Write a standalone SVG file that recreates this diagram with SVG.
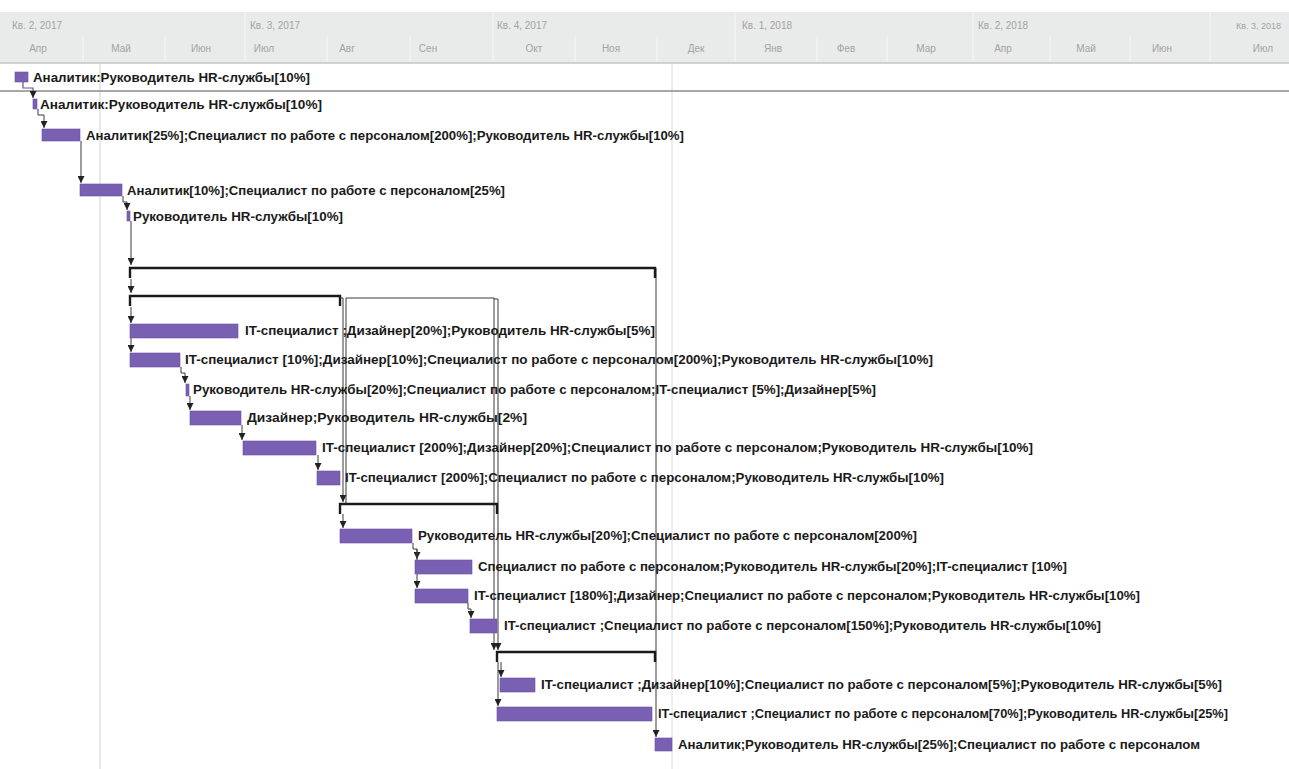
<svg xmlns="http://www.w3.org/2000/svg" width="1289" height="769" viewBox="0 0 1289 769">
<style>
.hdr{fill:#e9eaea}
.ht{font-family:"Liberation Sans",Arial,sans-serif;font-size:10px;fill:#a3a3a3}
.mt{font-family:"Liberation Sans",Arial,sans-serif;font-size:10px;fill:#a3a3a3;text-anchor:middle}
.sep{stroke:#f7f7f7;stroke-width:1}
.bar{fill:#7a60b2;stroke:#6a50a0;stroke-width:0.6}
.lbl{font-family:"Liberation Sans",Arial,sans-serif;font-size:13px;font-weight:bold;fill:#1a1a1a}
.sum{fill:none;stroke:#1a1a1a;stroke-width:2.4}
.lnk{fill:none;stroke:#3a3a3a;stroke-width:1}
.plk{fill:none;stroke:#6a50a0;stroke-width:1.2}
</style>
<defs>
<marker id="ar" viewBox="0 0 7 7" refX="7" refY="3.5" markerWidth="7" markerHeight="7" orient="auto" markerUnits="userSpaceOnUse">
<path d="M0,0 L7,3.5 L0,7 z" fill="#222222"/>
</marker>
</defs>
<rect width="1289" height="769" fill="#ffffff"/>
<g id="timescale">
<rect class="hdr" x="0" y="12" width="1289" height="51"/>
<line x1="0" y1="63" x2="1289" y2="63" stroke="#c4c4c4" stroke-width="1.5"/>
<g>
<line class="sep" x1="83" y1="36" x2="83" y2="62"/>
<line class="sep" x1="165" y1="36" x2="165" y2="62"/>
<line class="sep" x1="245" y1="12" x2="245" y2="62"/>
<line class="sep" x1="327" y1="36" x2="327" y2="62"/>
<line class="sep" x1="410" y1="36" x2="410" y2="62"/>
<line class="sep" x1="493" y1="12" x2="493" y2="62"/>
<line class="sep" x1="575" y1="36" x2="575" y2="62"/>
<line class="sep" x1="657" y1="36" x2="657" y2="62"/>
<line class="sep" x1="735" y1="12" x2="735" y2="62"/>
<line class="sep" x1="817" y1="36" x2="817" y2="62"/>
<line class="sep" x1="887" y1="36" x2="887" y2="62"/>
<line class="sep" x1="973" y1="12" x2="973" y2="62"/>
<line class="sep" x1="1050" y1="36" x2="1050" y2="62"/>
<line class="sep" x1="1130" y1="36" x2="1130" y2="62"/>
<line class="sep" x1="1210" y1="12" x2="1210" y2="62"/>
</g>
<text class="ht" x="12" y="29">Кв. 2, 2017</text>
<text class="ht" x="250" y="29">Кв. 3, 2017</text>
<text class="ht" x="497" y="29">Кв. 4, 2017</text>
<text class="ht" x="742" y="29">Кв. 1, 2018</text>
<text class="ht" x="978" y="29">Кв. 2, 2018</text>
<text class="ht" x="1236" y="29" style="font-size:9px">Кв. 3, 2018</text>
<text class="mt" x="38" y="52">Апр</text>
<text class="mt" x="121" y="52">Май</text>
<text class="mt" x="201" y="52">Июн</text>
<text class="mt" x="264" y="52">Июл</text>
<text class="mt" x="347" y="52">Авг</text>
<text class="mt" x="428" y="52">Сен</text>
<text class="mt" x="534" y="52">Окт</text>
<text class="mt" x="611" y="52">Ноя</text>
<text class="mt" x="696" y="52">Дек</text>
<text class="mt" x="773" y="52">Янв</text>
<text class="mt" x="846" y="52">Фев</text>
<text class="mt" x="926" y="52">Мар</text>
<text class="mt" x="1003" y="52">Апр</text>
<text class="mt" x="1086" y="52">Май</text>
<text class="mt" x="1162" y="52">Июн</text>
<text class="mt" x="1263" y="52">Июл</text>
</g>
<g id="gridlines">
<line x1="100" y1="64" x2="100" y2="769" stroke="#d0d0d0" stroke-width="1"/>
<line x1="672" y1="64" x2="672" y2="769" stroke="#dcdcdc" stroke-width="1"/>
<line x1="0" y1="91" x2="1289" y2="91" stroke="#8a8a8a" stroke-width="1.5"/>
</g>
<g id="connectors">
<path class="plk" d="M23,82 V88 H33 V98" marker-end="url(#ar)"/>
<path class="lnk" d="M38,109 V115 H44 V128" marker-end="url(#ar)"/>
<path class="lnk" d="M81,141 V183" marker-end="url(#ar)"/>
<path class="lnk" d="M123,196 V202 H127 V210" marker-end="url(#ar)"/>
<path class="lnk" d="M131,221 V265" marker-end="url(#ar)"/>
<path class="lnk" d="M131,279 V293" marker-end="url(#ar)"/>
<path class="lnk" d="M131,307 V323" marker-end="url(#ar)"/>
<path class="lnk" d="M131,338 V352" marker-end="url(#ar)"/>
<path class="lnk" d="M181,367 V373 H185 V383" marker-end="url(#ar)"/>
<path class="lnk" d="M190,396 V410" marker-end="url(#ar)"/>
<path class="lnk" d="M242,425 V440" marker-end="url(#ar)"/>
<path class="lnk" d="M318,455 V470" marker-end="url(#ar)"/>
<path class="lnk" d="M340,298 H343 V502" marker-end="url(#ar)"/>
<path class="lnk" d="M346,298 V503"/>
<path class="lnk" d="M343,514 V528" marker-end="url(#ar)"/>
<path class="lnk" d="M413,543 V549 H417 V559" marker-end="url(#ar)"/>
<path class="lnk" d="M417,549 V588" marker-end="url(#ar)"/>
<path class="lnk" d="M468,603 V609 H471 V618" marker-end="url(#ar)"/>
<path class="lnk" d="M346,298 H494 V650" marker-end="url(#ar)"/>
<path class="lnk" d="M494,299 H498 V650" marker-end="url(#ar)"/>
<path class="lnk" d="M501,662 V677" marker-end="url(#ar)"/>
<path class="lnk" d="M498,662 V706" marker-end="url(#ar)"/>
<path class="lnk" d="M656,268 V737" marker-end="url(#ar)"/>
</g>
<g id="t1"><rect class="bar" x="15" y="72" width="13" height="10"/><text class="lbl" x="33" y="82" textLength="277" lengthAdjust="spacingAndGlyphs">Аналитик:Руководитель HR-службы[10%]</text></g>
<g id="t2"><rect class="bar" x="33" y="99" width="4" height="10"/><text class="lbl" x="40" y="109" textLength="282" lengthAdjust="spacingAndGlyphs">Аналитик:Руководитель HR-службы[10%]</text></g>
<g id="t3"><rect class="bar" x="42" y="129" width="38" height="12"/><text class="lbl" x="86" y="140" textLength="598" lengthAdjust="spacingAndGlyphs">Аналитик[25%];Специалист по работе с персоналом[200%];Руководитель HR-службы[10%]</text></g>
<g id="t4"><rect class="bar" x="80" y="184" width="42" height="12"/><text class="lbl" x="127" y="195" textLength="378" lengthAdjust="spacingAndGlyphs">Аналитик[10%];Специалист по работе с персоналом[25%]</text></g>
<g id="t5"><rect class="bar" x="127" y="211" width="3" height="10"/><text class="lbl" x="133" y="221" textLength="210" lengthAdjust="spacingAndGlyphs">Руководитель HR-службы[10%]</text></g>
<g id="s1"><path class="sum" d="M130,278 V268 H655 V278"/></g>
<g id="s2"><path class="sum" d="M130,306 V296 H340 V306"/></g>
<g id="t8"><rect class="bar" x="130" y="324" width="108" height="14"/><text class="lbl" x="245" y="335" textLength="410" lengthAdjust="spacingAndGlyphs">IT-специалист ;Дизайнер[20%];Руководитель HR-службы[5%]</text></g>
<g id="t9"><rect class="bar" x="130" y="353" width="50" height="14"/><text class="lbl" x="185" y="364" textLength="748" lengthAdjust="spacingAndGlyphs">IT-специалист [10%];Дизайнер[10%];Специалист по работе с персоналом[200%];Руководитель HR-службы[10%]</text></g>
<g id="t10"><rect class="bar" x="186" y="384" width="3" height="12"/><text class="lbl" x="193" y="394" textLength="683" lengthAdjust="spacingAndGlyphs">Руководитель HR-службы[20%];Специалист по работе с персоналом;IT-специалист [5%];Дизайнер[5%]</text></g>
<g id="t11"><rect class="bar" x="190" y="411" width="51" height="14"/><text class="lbl" x="247" y="422" textLength="280" lengthAdjust="spacingAndGlyphs">Дизайнер;Руководитель HR-службы[2%]</text></g>
<g id="t12"><rect class="bar" x="243" y="441" width="73" height="14"/><text class="lbl" x="322" y="452" textLength="711" lengthAdjust="spacingAndGlyphs">IT-специалист [200%];Дизайнер[20%];Специалист по работе с персоналом;Руководитель HR-службы[10%]</text></g>
<g id="t13"><rect class="bar" x="317" y="471" width="23" height="14"/><text class="lbl" x="345" y="482" textLength="599" lengthAdjust="spacingAndGlyphs">IT-специалист [200%];Специалист по работе с персоналом;Руководитель HR-службы[10%]</text></g>
<g id="s3"><path class="sum" d="M340,514 V504 H497 V514"/></g>
<g id="t15"><rect class="bar" x="340" y="529" width="72" height="14"/><text class="lbl" x="418" y="540" textLength="499" lengthAdjust="spacingAndGlyphs">Руководитель HR-службы[20%];Специалист по работе с персоналом[200%]</text></g>
<g id="t16"><rect class="bar" x="415" y="560" width="57" height="14"/><text class="lbl" x="478" y="571" textLength="589" lengthAdjust="spacingAndGlyphs">Специалист по работе с персоналом;Руководитель HR-службы[20%];IT-специалист [10%]</text></g>
<g id="t17"><rect class="bar" x="415" y="589" width="53" height="14"/><text class="lbl" x="474" y="600" textLength="666" lengthAdjust="spacingAndGlyphs">IT-специалист [180%];Дизайнер;Специалист по работе с персоналом;Руководитель HR-службы[10%]</text></g>
<g id="t18"><rect class="bar" x="470" y="619" width="27" height="14"/><text class="lbl" x="504" y="630" textLength="597" lengthAdjust="spacingAndGlyphs">IT-специалист ;Специалист по работе с персоналом[150%];Руководитель HR-службы[10%]</text></g>
<g id="s4"><path class="sum" d="M497,662 V652 H655 V662"/></g>
<g id="t20"><rect class="bar" x="500" y="678" width="35" height="14"/><text class="lbl" x="541" y="689" textLength="681" lengthAdjust="spacingAndGlyphs">IT-специалист ;Дизайнер[10%];Специалист по работе с персоналом[5%];Руководитель HR-службы[5%]</text></g>
<g id="t21"><rect class="bar" x="497" y="707" width="155" height="14"/><text class="lbl" x="658" y="718" textLength="570" lengthAdjust="spacingAndGlyphs">IT-специалист ;Специалист по работе с персоналом[70%];Руководитель HR-службы[25%]</text></g>
<g id="t22"><rect class="bar" x="655" y="738" width="17" height="13"/><text class="lbl" x="678" y="749" textLength="522" lengthAdjust="spacingAndGlyphs">Аналитик;Руководитель HR-службы[25%];Специалист по работе с персоналом</text></g>
</svg>
